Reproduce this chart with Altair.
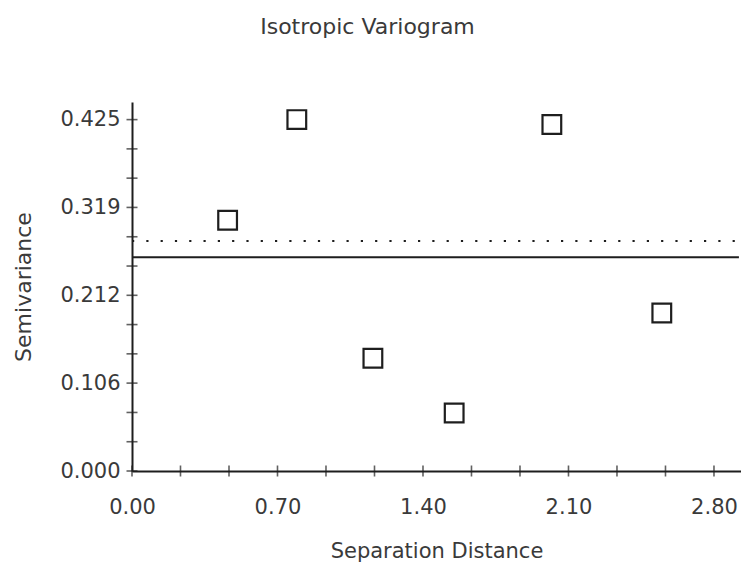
import altair as alt
import pandas as pd

# Data
distance = [0.460, 0.793, 1.159, 1.550, 2.020, 2.549]
semivariance = [0.3032, 0.4250, 0.1363, 0.0702, 0.4190, 0.1911]

model_level = 0.2585      # solid line
sample_variance = 0.2782  # dotted line
line_x_start = 0.0
line_x_end = 2.92

x_label_values = [0.0, 0.70, 1.40, 2.10, 2.80]
y_label_values = [0.0, 0.106, 0.212, 0.319, 0.425]
x_tick_values = [0.0, 0.2333, 0.4667, 0.70, 0.9333, 1.1667, 1.40,
                 1.6333, 1.8667, 2.10, 2.3333, 2.5667, 2.80]
y_tick_values = [0.0, 0.0354, 0.0708, 0.1063, 0.1417, 0.1771, 0.2125,
                 0.2479, 0.2833, 0.3188, 0.3542, 0.3896, 0.425]

x_domain = [0.0, 2.93]
y_domain = [0.0, 0.4463]

W, H = 609, 369
FONT = "DejaVu Sans"
TEXT = "#3a3a3a"
INK = "#1e1e1e"

pts = pd.DataFrame({"d": distance, "s": semivariance})
lines = pd.DataFrame({
    "x1": [line_x_start, line_x_start],
    "x2": [line_x_end, line_x_end],
    "y": [model_level, sample_variance],
    "kind": ["model", "sample"],
})
xt = pd.DataFrame({"v": x_tick_values})
yt = pd.DataFrame({"v": y_tick_values})

xscale = alt.Scale(domain=x_domain, nice=False, zero=False)
yscale = alt.Scale(domain=y_domain, nice=False, zero=False)

xaxis = alt.Axis(values=x_label_values, format=".2f", ticks=False, grid=False,
                 labelPadding=25, labelFontSize=21, labelFont=FONT, labelColor=TEXT,
                 domainColor=INK, domainWidth=2,
                 title="Separation Distance", titleFont=FONT, titleFontSize=21,
                 titleColor=TEXT, titleFontWeight="normal",
                 titleX=W / 2, titleY=80, titleBaseline="middle", titleAlign="center",
                 labelFlush=False, labelOverlap=False)
yaxis = alt.Axis(values=y_label_values, format=".3f", ticks=False, grid=False,
                 labelPadding=12, labelFontSize=21, labelFont=FONT, labelColor=TEXT,
                 labelBaseline="middle",
                 domainColor=INK, domainWidth=2,
                 title="Semivariance", titleFont=FONT, titleFontSize=22,
                 titleColor=TEXT, titleFontWeight="normal",
                 titleX=-109, titleY=H / 2, titleAngle=270,
                 titleBaseline="middle", titleAlign="center",
                 labelFlush=False, labelOverlap=False)

points = alt.Chart(pts).mark_point(
    shape="square", filled=False, size=350, strokeWidth=2.2, color=INK, opacity=1
).encode(
    x=alt.X("d:Q", scale=xscale, axis=xaxis),
    y=alt.Y("s:Q", scale=yscale, axis=yaxis),
)

solid = alt.Chart(lines[lines.kind == "model"]).mark_rule(
    color=INK, strokeWidth=2
).encode(x=alt.X("x1:Q", scale=xscale), x2="x2:Q",
         y=alt.Y("y:Q", scale=yscale))

dotted = alt.Chart(lines[lines.kind == "sample"]).mark_rule(
    color=INK, strokeWidth=2.2, strokeDash=[2.2, 12.1]
).encode(x=alt.X("x1:Q", scale=xscale), x2="x2:Q",
         y=alt.Y("y:Q", scale=yscale))

xticks = alt.Chart(xt).mark_tick(
    orient="vertical", size=11, thickness=1.6, color=INK
).encode(x=alt.X("v:Q", scale=xscale), y=alt.value(H))

yticks = alt.Chart(yt).mark_tick(
    orient="horizontal", size=11, thickness=1.6, color=INK
).encode(y=alt.Y("v:Q", scale=yscale), x=alt.value(0))

chart = alt.layer(points, solid, dotted, xticks, yticks).properties(
    width=W,
    height=H,
    background="white",
    autosize=alt.AutoSizeParams(type="none"),
    padding={"left": 124, "top": 94, "right": 0, "bottom": 94},
    title=alt.TitleParams(
        "Isotropic Variogram", font=FONT, fontSize=22, color=TEXT,
        fontWeight="normal", anchor="middle", frame="group", dx=-69,
        offset=53, baseline="middle",
    ),
).configure_view(
    stroke="transparent", strokeWidth=0
).configure_axis(grid=False)

chart.save("out.html", embed_options={"renderer": "svg", "actions": False})
